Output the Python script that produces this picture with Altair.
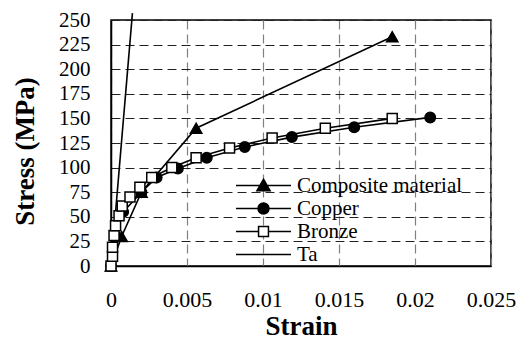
import altair as alt
import pandas as pd

series_names = ["Composite material", "Copper", "Bronze", "Ta"]

comp_strain = [0.0, 0.0007, 0.002, 0.0056, 0.0185]
comp_stress = [0, 30, 75, 140, 233]

copper_strain = [0.0, 0.0003, 0.0008, 0.002, 0.003, 0.0044, 0.0063, 0.0088, 0.0119, 0.016, 0.021]
copper_stress = [0, 30, 55, 75, 90, 99, 110, 121, 131, 141, 151]

bronze_strain = [0.0, 0.0001, 0.0001, 0.0002, 0.0003, 0.00053, 0.00074, 0.00125, 0.0019,
                 0.00268, 0.004, 0.0056, 0.0078, 0.0106, 0.0141, 0.0185]
bronze_stress = [0, 10, 19, 31, 41, 51, 61, 70, 80, 90, 100, 110, 120, 130, 140, 150]

ta_strain = [0.0, 0.00141]
ta_stress = [0, 257]

markers = {"Composite material": ("triangle-up", "black", 130),
           "Copper": ("circle", "black", 110),
           "Bronze": ("square", "white", 100),
           "Ta": ("circle", "black", 0)}

rows = []
for name, xs, ys in [("Composite material", comp_strain, comp_stress),
                     ("Copper", copper_strain, copper_stress),
                     ("Bronze", bronze_strain, bronze_stress),
                     ("Ta", ta_strain, ta_stress)]:
    m, f, s = markers[name]
    for i, (x, y) in enumerate(zip(xs, ys)):
        rows.append({"series": name, "strain": x, "stress": y, "idx": i,
                     "marker": m, "fillc": f, "msize": s})
df = pd.DataFrame(rows)

FONT = "Liberation Serif, Times New Roman, serif"

x_enc = alt.X("strain:Q",
              scale=alt.Scale(domain=[0, 0.025], nice=False, zero=False),
              axis=alt.Axis(values=[0, 0.005, 0.01, 0.015, 0.02, 0.025], format="~g",
                            title="Strain", titleFontSize=27, titleFontWeight="bold",
                            titleFont=FONT, titleY=68, titleBaseline="alphabetic",
                            labelFont=FONT, labelFontSize=22, labelPadding=23,
                            labelColor="black", titleColor="black", labelOverlap=False,
                            ticks=False, domainColor="black", domainWidth=1.5,
                            grid=True, gridColor="#808080", gridDash=[9, 5], gridWidth=1.2,
                            labelFlush=False))
y_enc = alt.Y("stress:Q",
              scale=alt.Scale(domain=[0, 250], nice=False, zero=False),
              axis=alt.Axis(values=list(range(0, 251, 25)),
                            title="Stress (MPa)", titleFontSize=27, titleFontWeight="bold",
                            titleFont=FONT, titleX=-86, titleY=131, titleAngle=-90,
                            titleAlign="center", titleBaseline="middle",
                            labelFont=FONT, labelFontSize=21, labelPadding=21,
                            labelColor="black", titleColor="black", labelOverlap=False,
                            ticks=False, domainColor="black", domainWidth=1.5,
                            grid=True, gridColor="#222222", gridDash=[9, 5], gridWidth=1.2,
                            labelFlush=False))

lines = alt.Chart(df).mark_line(color="black", strokeWidth=1.6, clip=False).encode(
    x=x_enc, y=y_enc, detail="series:N", order="idx:Q"
)

points = alt.Chart(df).transform_filter(alt.datum.series != "Ta").mark_point(
    filled=True, stroke="black", strokeWidth=1.5, opacity=1
).encode(
    x=x_enc, y=y_enc,
    shape=alt.Shape("marker:N", scale=None),
    fill=alt.Fill("fillc:N", scale=None),
    size=alt.Size("msize:Q", scale=None),
)

legend_paths = [
    "M-5,0H5M0,-1.15L1.2,0.95H-1.2Z",
    "M-5,0H5M1,0A1,1 0 1,1 -1,0A1,1 0 1,1 1,0Z",
    "M-5,0H-0.9M0.9,0H5M-0.9,-0.9H0.9V0.9H-0.9Z",
    "M-5,0H5",
]

leg = alt.Legend(title=None, orient="none", legendX=142, legendY=155,
                 labelFont=FONT, labelFontSize=21, labelColor="black",
                 labelOffset=23, symbolSize=121, symbolStrokeColor="black",
                 symbolStrokeWidth=1.5, symbolOpacity=1, rowPadding=1, padding=0,
                 labelLimit=400)

legend_layer = alt.Chart(df).mark_point(
    filled=True, stroke="black", strokeWidth=1.5, opacity=0
).encode(
    x=x_enc, y=y_enc,
    shape=alt.Shape("series:N", scale=alt.Scale(domain=series_names, range=legend_paths),
                    legend=leg),
    fill=alt.Fill("series:N", scale=alt.Scale(domain=series_names,
                                              range=["black", "black", "white", "black"]),
                  legend=leg),
)

chart = alt.layer(lines, points, legend_layer).properties(
    width=380, height=246,
    autosize=alt.AutoSizeParams(type="none"),
    padding={"left": 111, "top": 20, "right": 36, "bottom": 75},
).configure(background="white", font=FONT).configure_view(
    stroke="black", strokeWidth=1.5
)

chart.save("out.html", embed_options={"renderer": "svg", "actions": False})
